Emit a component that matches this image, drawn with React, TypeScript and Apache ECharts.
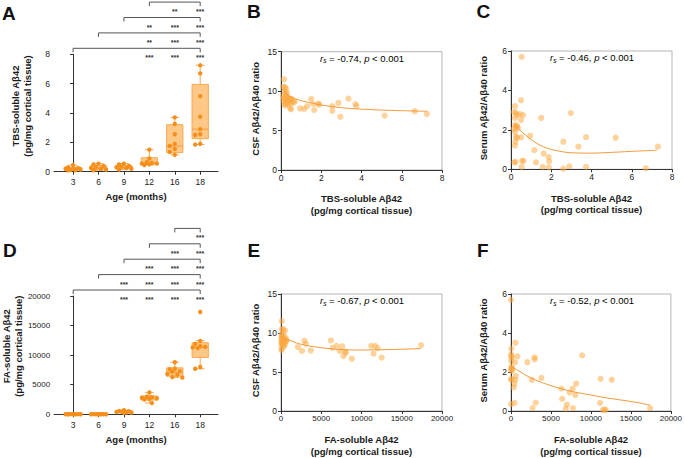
import React, { useEffect, useRef } from "react";
import * as echarts from "echarts";

const FONT = "'Liberation Sans', Arial, Helvetica, sans-serif";

// ---------- Data ----------
const AGES = ["3", "6", "9", "12", "16", "18"];

// Panel A: TBS-soluble Aβ42 (pg/mg) per age group
const TBS_POINTS = [
  [0.45, 0.3, 0.25, 0.2, 0.2, 0.15, 0.12, 0.1, 0.1],
  [0.55, 0.5, 0.4, 0.3, 0.25, 0.2, 0.15, 0.1],
  [0.55, 0.5, 0.4, 0.35, 0.3, 0.25, 0.2, 0.15],
  [1.5, 0.9, 0.65, 0.6, 0.55, 0.55, 0.5, 0.45],
  [3.7, 3.25, 2.55, 1.9, 1.75, 1.55, 1.35, 1.15],
  [7.25, 6.7, 5.15, 3.75, 2.9, 2.55, 2.5, 1.9, 1.85],
];
// [min, q1, median, q3, max]
const TBS_BOX = [
  [0.1, 0.12, 0.18, 0.3, 0.45],
  [0.1, 0.13, 0.25, 0.42, 0.55],
  [0.15, 0.2, 0.3, 0.42, 0.55],
  [0.45, 0.5, 0.6, 0.95, 1.5],
  [1.15, 1.3, 1.75, 3.2, 3.7],
  [1.85, 2.25, 2.9, 5.95, 7.25],
];
// brackets: [fromGroup, toGroup, level]; stars: [group, level, count]
const TBS_BRACKETS = [[0, 5, 0], [1, 5, 1], [2, 5, 2], [3, 5, 3]];
const TBS_STARS = [
  [3, 0, 3], [4, 0, 3], [5, 0, 3],
  [3, 1, 2], [4, 1, 3], [5, 1, 3],
  [3, 2, 2], [4, 2, 3], [5, 2, 3],
  [4, 3, 2], [5, 3, 3],
];

// Panel D: FA-soluble Aβ42 (pg/mg) per age group
const FA_POINTS = [
  [30, 20, 20, 15, 10, 10, 5, 5, 5],
  [30, 20, 15, 10, 10, 5, 5, 5],
  [700, 550, 500, 450, 400, 350, 300, 250],
  [3700, 3000, 2900, 2800, 2700, 2600, 2500, 1900],
  [8800, 7700, 7600, 7300, 7200, 6800, 6700, 6300, 6200],
  [17300, 12400, 11900, 11500, 11400, 11300, 11200, 8000, 7700],
];
const FA_BOX = [
  [5, 5, 10, 20, 30],
  [5, 5, 10, 20, 30],
  [250, 320, 420, 520, 700],
  [1900, 2400, 2750, 3100, 3700],
  [6200, 6450, 7100, 7850, 8800],
  [7700, 9600, 11300, 12100, 12450],
];
const FA_BRACKETS = [[0, 5, 0], [1, 5, 1], [2, 5, 2], [3, 5, 3], [4, 5, 4]];
const FA_STARS = [
  [2, 0, 3], [3, 0, 3], [4, 0, 3], [5, 0, 3],
  [2, 1, 3], [3, 1, 3], [4, 1, 3], [5, 1, 3],
  [3, 2, 3], [4, 2, 3], [5, 2, 3],
  [4, 3, 3], [5, 3, 3],
  [5, 4, 3],
];

// Panel B: TBS-soluble Aβ42 vs CSF Aβ42/Aβ40
const B_POINTS = [
  [0.15, 11.5], [0.12, 10.55], [0.2, 10.5], [0.25, 10.3], [0.18, 10.0], [0.3, 9.8], [0.22, 9.6],
  [0.1, 9.4], [0.28, 9.3], [0.15, 9.1], [0.35, 9.2], [0.2, 9.0], [0.42, 9.0], [0.12, 8.8],
  [0.25, 8.7], [0.3, 8.5], [0.18, 8.3], [0.45, 8.9], [0.52, 9.05], [0.55, 8.8], [0.62, 8.6],
  [0.5, 8.45], [0.45, 7.85], [0.5, 7.7], [0.68, 8.65], [0.32, 8.9], [0.22, 8.2], [0.38, 8.4],
  [0.95, 7.8], [1.15, 7.75], [1.3, 8.1], [1.5, 9.0], [1.6, 8.35], [1.65, 7.6], [1.85, 8.4],
  [1.9, 8.3], [2.55, 8.1], [2.55, 7.5], [2.85, 8.5], [2.95, 6.75], [3.35, 9.05], [3.7, 8.35],
  [3.75, 8.1], [5.15, 6.9], [6.65, 7.45], [7.25, 7.1],
];
const B_FIT_X = [0.1, 0.3, 0.6, 1.0, 1.5, 2.0, 3.0, 4.0, 5.0, 6.0, 7.25];
const B_FIT_Y = [10.2, 9.55, 9.15, 8.8, 8.5, 8.25, 7.9, 7.72, 7.6, 7.52, 7.45];

// Panel C: TBS-soluble Aβ42 vs serum Aβ42/Aβ40
const C_POINTS = [
  [0.53, 5.7], [0.2, 3.2], [0.5, 3.5], [0.15, 2.9], [0.25, 2.85], [0.45, 2.8], [0.6, 2.75],
  [0.3, 2.75], [0.2, 2.6], [0.5, 2.5], [0.2, 2.25], [0.3, 2.2], [0.25, 2.15], [0.35, 2.1],
  [0.15, 2.05], [0.2, 1.9], [0.25, 1.65], [0.5, 1.62], [0.3, 1.6], [0.22, 1.4], [0.2, 1.2],
  [0.95, 1.7], [1.5, 2.6], [2.97, 2.85], [1.16, 0.97], [1.24, 0.35], [1.62, 0.8], [1.87, 0.62],
  [1.9, 0.4], [1.88, 0.1], [1.58, 0.12], [0.53, 0.12], [0.17, 0.35], [0.22, 0.37], [0.55, 0.43],
  [0.62, 0.43], [2.6, 1.4], [2.6, 0.03], [2.9, 0.15], [3.35, 1.15], [3.73, 1.63], [3.73, 0.12],
  [5.2, 1.6], [6.7, 0.05], [7.3, 1.15],
];
const C_FIT_X = [0.15, 0.4, 0.7, 1.0, 1.4, 1.8, 2.4, 3.0, 4.0, 5.0, 6.0, 7.25];
const C_FIT_Y = [2.3, 2.02, 1.75, 1.5, 1.25, 1.07, 0.92, 0.84, 0.82, 0.86, 0.91, 0.97];

// Panel E: FA-soluble Aβ42 vs CSF Aβ42/Aβ40
const E_POINTS = [
  [100, 11.5], [100, 10.5], [300, 10.5], [500, 10.3], [200, 10.0], [50, 9.8], [400, 9.6],
  [150, 9.4], [600, 9.3], [250, 9.1], [50, 9.0], [350, 9.0], [500, 9.0], [100, 8.8], [700, 9.0],
  [200, 8.7], [400, 8.6], [50, 8.5], [300, 8.3], [100, 8.0], [50, 7.8], [150, 9.2], [600, 8.9],
  [250, 8.9], [450, 8.4], [80, 9.5],
  [2100, 8.2], [2600, 7.7], [2900, 9.0], [3100, 8.6], [3700, 7.75], [6200, 9.05], [6400, 8.1],
  [6900, 8.35], [7300, 7.7], [7600, 8.3], [7750, 7.05], [8000, 7.6], [8050, 7.5], [8800, 6.7],
  [11200, 8.35], [11700, 8.35], [12000, 8.05], [11500, 7.35], [12500, 6.85], [17400, 8.45],
];
const E_FIT_X = [0, 500, 1000, 2000, 3000, 4000, 6000, 8000, 10000, 12000, 15000, 17400];
const E_FIT_Y = [9.6, 9.3, 9.1, 8.7, 8.45, 8.25, 8.0, 7.85, 7.82, 7.85, 7.92, 8.0];

// Panel F: FA-soluble Aβ42 vs serum Aβ42/Aβ40
const F_POINTS = [
  [0, 5.7], [550, 3.5], [50, 3.2], [20, 2.9], [80, 2.8], [50, 2.75], [800, 2.8], [40, 2.55],
  [500, 2.5], [60, 2.25], [100, 2.2], [30, 2.15], [150, 2.1], [50, 2.05], [40, 1.65], [600, 1.8],
  [550, 1.6], [30, 1.6], [420, 1.4], [350, 1.2], [30, 0.35], [450, 0.42], [2050, 2.5],
  [2600, 1.6], [2950, 2.75], [2950, 2.65], [3800, 1.7], [2700, 0.15], [3100, 0.43], [6300, 1.15],
  [6400, 0.62], [7000, 0.33], [6850, 0.12], [7350, 0.95], [7700, 1.15], [7750, 0.15],
  [8050, 0.82], [8150, 1.4], [8900, 2.85], [11200, 1.65], [11150, 0.42], [11700, 0.08],
  [11850, 0.05], [11500, 0.05], [12600, 1.6], [17400, 0.15],
];
const F_FIT_X = [0, 1000, 2000, 3500, 5000, 6500, 8000, 10000, 12000, 14000, 16000, 17400];
const F_FIT_Y = [2.3, 2.05, 1.8, 1.52, 1.3, 1.12, 0.97, 0.82, 0.67, 0.55, 0.42, 0.3];

const ANNOTATIONS = ["-0.74", "-0.46", "-0.67", "-0.52"];

// ---------- Styles ----------
const AXIS_COLOR = "#333";
const FRAME_COLOR = "#b5b5b5";
const TEXT_COLOR = "#1a1a1a";
const BOX_FILL = "#ffc887";
const BOX_STROKE = "#f7a94f";
const DOT_COLOR = "#f58f1c";
const SCATTER_COLOR = "rgba(252,168,64,0.65)";
const FIT_COLOR = "#f39a3a";

const GRIDS = [
  { left: 54, top: 54.3, width: 164, height: 117.4 }, // A
  { left: 281, top: 51.7, width: 161, height: 118.3 }, // B
  { left: 511, top: 51, width: 161, height: 118.3 }, // C
  { left: 54, top: 296, width: 164, height: 118.3 }, // D
  { left: 281, top: 294, width: 161, height: 118.3 }, // E
  { left: 511, top: 294, width: 161, height: 118.3 }, // F
];

const zip = (xs: number[], ys: number[]) => xs.map((x, i) => [x, ys[i]]);

// simple beeswarm: spread colliding dots horizontally
function swarm(values: number[], pxPerY: number, pxPerX: number) {
  const DIAM = 4.4;
  const STEP = 2.5; // px
  const slots = [0, -1, 1, -2, 2, -3, 3];
  const placed: { s: number; v: number }[] = [];
  return values.map((v) => {
    let best = 0;
    let bestD = -1;
    for (const s of slots) {
      let minD = Infinity;
      for (const p of placed) {
        const dx = (s - p.s) * STEP;
        const dy = (v - p.v) * pxPerY;
        minD = Math.min(minD, Math.sqrt(dx * dx + dy * dy));
      }
      if (minD >= DIAM) {
        best = s;
        bestD = Infinity;
        break;
      }
      if (minD > bestD) {
        bestD = minD;
        best = s;
      }
    }
    placed.push({ s: best, v });
    return (best * STEP) / pxPerX;
  });
}

function boxRender(params: any, api: any) {
  const i = api.value(0);
  const mn = api.value(1), q1 = api.value(2), md = api.value(3), q3 = api.value(4), mx = api.value(5);
  const cx = api.coord([i, 0])[0];
  const w = api.size([0.64, 0])[0];
  const cw = api.size([0.34, 0])[0];
  const y = (v: number) => api.coord([i, v])[1];
  const ls = { stroke: BOX_STROKE, lineWidth: 1 };
  return {
    type: "group",
    children: [
      { type: "line", shape: { x1: cx, y1: y(mx), x2: cx, y2: y(q3) }, style: ls },
      { type: "line", shape: { x1: cx, y1: y(q1), x2: cx, y2: y(mn) }, style: ls },
      { type: "line", shape: { x1: cx - cw / 2, y1: y(mx), x2: cx + cw / 2, y2: y(mx) }, style: ls },
      { type: "line", shape: { x1: cx - cw / 2, y1: y(mn), x2: cx + cw / 2, y2: y(mn) }, style: ls },
      {
        type: "rect",
        shape: { x: cx - w / 2, y: y(q3), width: w, height: Math.max(y(q1) - y(q3), 0.8) },
        style: { fill: BOX_FILL, stroke: BOX_STROKE, lineWidth: 1 },
      },
      { type: "line", shape: { x1: cx - w / 2, y1: y(md), x2: cx + w / 2, y2: y(md) }, style: { stroke: "#f39a3a", lineWidth: 1 } },
    ],
  };
}

const BR_START = 6;
const BR_STEP = 15.4;

function bracketRender(params: any, api: any) {
  const x1 = api.coord([api.value(0), 0])[0];
  const x2 = api.coord([api.value(1), 0])[0];
  const yy = params.coordSys.y - BR_START - api.value(2) * BR_STEP;
  return {
    type: "polyline",
    shape: { points: [[x1, yy + 4], [x1, yy], [x2, yy], [x2, yy + 4]] },
    style: { stroke: "#555", lineWidth: 1, fill: "none" },
  };
}

function starRender(params: any, api: any) {
  const x = api.coord([api.value(0), 0])[0];
  const yy = params.coordSys.y - BR_START - api.value(1) * BR_STEP;
  return {
    type: "text",
    x,
    y: yy + 9.5,
    style: {
      text: "*".repeat(api.value(2)),
      fontSize: 7,
      fontWeight: "bold",
      fontFamily: FONT,
      fill: "#333",
      align: "center",
      verticalAlign: "middle",
    },
  };
}

const plain = (v: number) => String(v);

const tickLabel = (size: number, margin: number) => ({
  fontSize: size,
  fontFamily: FONT,
  color: TEXT_COLOR,
  margin,
  formatter: plain,
});
const axisNameStyle = (padding?: number[]) => ({
  fontSize: 9.5,
  fontWeight: "bold",
  fontFamily: FONT,
  color: TEXT_COLOR,
  lineHeight: 11.5,
  padding: padding || [0, 0, 0, 0],
});
const axisLine = { show: true, lineStyle: { color: AXIS_COLOR, width: 1 } };
const axisTick = { show: true, length: 3, lineStyle: { color: AXIS_COLOR } };

function groupXAxis(gridIndex: number) {
  const idx = [0, 1, 2, 3, 4, 5];
  return {
    type: "value",
    gridIndex,
    min: -0.75,
    max: 5.7,
    splitLine: { show: false },
    axisLine,
    axisTick: { ...axisTick, customValues: idx },
    axisLabel: {
      ...tickLabel(8.5, 6),
      customValues: idx,
      formatter: (v: number) => AGES[Math.round(v)] ?? "",
    },
    name: "Age (months)",
    nameLocation: "middle",
    nameGap: 19,
    nameTextStyle: axisNameStyle(),
  };
}

function valueAxis(gridIndex: number, max: number, interval: number, extra: any, fontSize = 8.5, margin = 3) {
  return {
    type: "value",
    gridIndex,
    min: 0,
    max,
    interval,
    splitLine: { show: false },
    axisLine,
    axisTick,
    axisLabel: tickLabel(fontSize, margin),
    nameLocation: "middle",
    ...extra,
  };
}

export default function App() {
  const ref = useRef<HTMLDivElement>(null);

  useEffect(() => {
    if (!ref.current) return;
    const chart = echarts.init(ref.current, undefined, { renderer: "svg" });

    const tbsName = "TBS-soluble Aβ42\n(pg/mg cortical tissue)";
    const faName = "FA-soluble Aβ42\n(pg/mg cortical tissue)";

    const xAxis = [
      groupXAxis(0),
      valueAxis(1, 8, 2, { name: tbsName, nameGap: 23, nameTextStyle: axisNameStyle() }),
      valueAxis(2, 8, 2, { name: tbsName, nameGap: 23, nameTextStyle: axisNameStyle() }),
      groupXAxis(3),
      valueAxis(4, 20000, 5000, { name: faName, nameGap: 23, nameTextStyle: axisNameStyle() }, 8),
      valueAxis(5, 20000, 5000, { name: faName, nameGap: 23, nameTextStyle: axisNameStyle() }, 8),
    ];
    const yAxis = [
      valueAxis(0, 8, 2, { name: tbsName, nameGap: 21, nameTextStyle: axisNameStyle([0, 0, 0, 14]) }, 8.5, 4),
      valueAxis(1, 15, 5, { name: "CSF Aβ42/Aβ40 ratio", nameGap: 20, nameTextStyle: axisNameStyle([0, 0, 0, 4]) }, 8.5, 4),
      valueAxis(2, 6, 2, { name: "Serum Aβ42/Aβ40 ratio", nameGap: 22, nameTextStyle: axisNameStyle([0, 0, 0, 4]) }, 8.5, 4),
      valueAxis(3, 20000, 5000, { name: faName, nameGap: 21, nameTextStyle: axisNameStyle([0, 0, 0, 18]) }, 8, 4),
      valueAxis(4, 15, 5, { name: "CSF Aβ42/Aβ40 ratio", nameGap: 20, nameTextStyle: axisNameStyle([0, 0, 0, 4]) }, 8.5, 4),
      valueAxis(5, 6, 2, { name: "Serum Aβ42/Aβ40 ratio", nameGap: 22, nameTextStyle: axisNameStyle([0, 0, 0, 4]) }, 8.5, 4),
    ];

    const groupSeries = (gi: number, points: number[][], box: number[][], brackets: number[][], stars: number[][], yMax: number) => {
      const g = GRIDS[gi];
      const pxPerY = g.height / yMax;
      const pxPerX = g.width / (5.7 + 0.75);
      const dots: number[][] = [];
      points.forEach((grp, i) => {
        const offs = swarm(grp, pxPerY, pxPerX);
        grp.forEach((v, j) => dots.push([i + offs[j], v]));
      });
      return [
        {
          type: "custom",
          xAxisIndex: gi,
          yAxisIndex: gi,
          renderItem: boxRender,
          encode: { x: 0, y: [1, 2, 3, 4, 5] },
          data: box.map((b, i) => [i, ...b]),
          z: 2,
        },
        {
          type: "scatter",
          xAxisIndex: gi,
          yAxisIndex: gi,
          symbolSize: 4.4,
          itemStyle: { color: DOT_COLOR, opacity: 1 },
          data: dots,
          z: 3,
        },
        {
          type: "custom",
          xAxisIndex: gi,
          yAxisIndex: gi,
          clip: false,
          renderItem: bracketRender,
          encode: { x: [0, 1] },
          data: brackets,
        },
        {
          type: "custom",
          xAxisIndex: gi,
          yAxisIndex: gi,
          clip: false,
          renderItem: starRender,
          encode: { x: 0 },
          data: stars,
        },
      ];
    };

    const scatterSeries = (gi: number, pts: number[][], fx: number[], fy: number[]) => [
      {
        type: "scatter",
        xAxisIndex: gi,
        yAxisIndex: gi,
        symbolSize: 6.2,
        itemStyle: { color: SCATTER_COLOR },
        data: pts,
      },
      {
        type: "line",
        xAxisIndex: gi,
        yAxisIndex: gi,
        smooth: 0.4,
        showSymbol: false,
        lineStyle: { color: FIT_COLOR, width: 1 },
        data: zip(fx, fy),
      },
    ];

    const grid = GRIDS.map((g, i) => ({
      ...g,
      show: i === 1 || i === 2 || i === 4 || i === 5,
      borderColor: FRAME_COLOR,
      borderWidth: 1,
      containLabel: false,
    }));

    const letter = (t: string, x: number, y: number) => ({
      type: "text",
      x,
      y,
      style: { text: t, font: `bold 19px ${FONT}`, fill: "#111", verticalAlign: "middle", align: "left" },
    });

    const rich = {
      i: { fontSize: 9.5, fontStyle: "italic", fontFamily: FONT, color: TEXT_COLOR, verticalAlign: "middle" },
      s: { fontSize: 6.5, fontStyle: "italic", fontFamily: FONT, color: TEXT_COLOR, padding: [5, 0, 0, 0], verticalAlign: "middle" },
      n: { fontSize: 9.5, fontFamily: FONT, color: TEXT_COLOR, verticalAlign: "middle" },
    };
    const annot = (gi: number, val: string) => {
      const g = GRIDS[gi];
      return {
        type: "text",
        x: g.left + g.width / 2 + 0.5,
        y: g.top + 6.5,
        style: {
          text: `{i|r}{s|s}{n| = ${val}, }{i|p}{n| < 0.001}`,
          rich,
          align: "center",
          verticalAlign: "middle",
        },
      };
    };

    chart.setOption({
      animation: false,
      backgroundColor: "#fff",
      textStyle: { fontFamily: FONT },
      grid,
      xAxis,
      yAxis,
      series: [
        ...groupSeries(0, TBS_POINTS, TBS_BOX, TBS_BRACKETS, TBS_STARS, 8),
        ...groupSeries(3, FA_POINTS, FA_BOX, FA_BRACKETS, FA_STARS, 20000),
        ...scatterSeries(1, B_POINTS, B_FIT_X, B_FIT_Y),
        ...scatterSeries(2, C_POINTS, C_FIT_X, C_FIT_Y),
        ...scatterSeries(4, E_POINTS, E_FIT_X, E_FIT_Y),
        ...scatterSeries(5, F_POINTS, F_FIT_X, F_FIT_Y),
      ],
      graphic: [
        letter("A", 2, 13),
        letter("B", 247, 11.5),
        letter("C", 476.5, 11.5),
        letter("D", 3, 250),
        letter("E", 247.5, 250),
        letter("F", 477, 250),
        annot(1, ANNOTATIONS[0]),
        annot(2, ANNOTATIONS[1]),
        annot(4, ANNOTATIONS[2]),
        annot(5, ANNOTATIONS[3]),
      ],
    });

    return () => chart.dispose();
  }, []);

  return (
    <div
      ref={ref}
      style={{ position: "absolute", left: 0, top: 0, width: 685, height: 458, background: "#fff" }}
    />
  );
}
